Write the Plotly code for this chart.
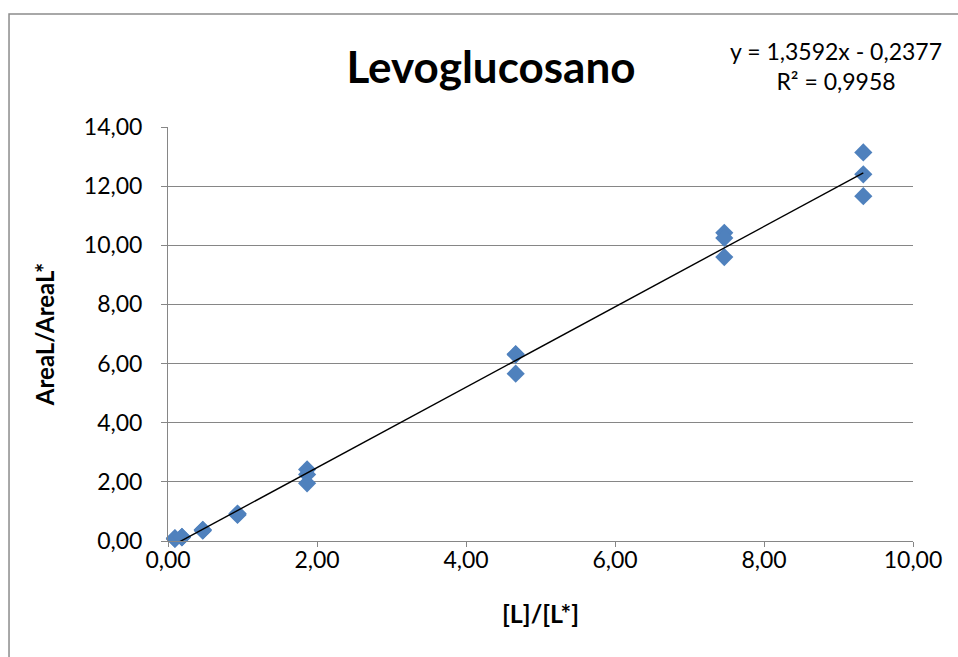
import numpy as np
import plotly.graph_objects as go

# Calibration data: concentration ratio vs. peak-area ratio (triplicates)
ratio_conc = [0.093, 0.093, 0.093,
              0.187, 0.187, 0.187,
              0.467, 0.467, 0.467,
              0.933, 0.933, 0.933,
              1.867, 1.867, 1.867,
              4.667, 4.667, 4.667,
              7.467, 7.467, 7.467,
              9.333, 9.333, 9.333]
ratio_area = [0.07, 0.08, 0.10,
              0.12, 0.13, 0.14,
              0.35, 0.37, 0.38,
              0.88, 0.91, 0.93,
              2.42, 2.25, 1.95,
              6.32, 6.30, 5.66,
              10.42, 10.25, 9.60,
              13.14, 12.40, 11.66]

# Linear trendline parameters
slope = 1.3592
intercept = -0.2377
r_squared = 0.9958

x_ticks = [0, 2, 4, 6, 8, 10]
y_ticks = [0, 2, 4, 6, 8, 10, 12, 14]

FONT = "Lato, Carlito, Calibri, sans-serif"
GRID = "#868686"

x_line = np.array([min(ratio_conc), max(ratio_conc)])
y_line = slope * x_line + intercept

fig = go.Figure()
fig.add_trace(go.Scatter(
    x=ratio_conc, y=ratio_area, mode="markers",
    marker=dict(symbol="diamond", size=14, color="#4F81BD",
                line=dict(width=0)),
    showlegend=False, cliponaxis=False,
))
fig.add_trace(go.Scatter(
    x=x_line, y=y_line, mode="lines",
    line=dict(color="black", width=1.4),
    showlegend=False,
))

fmt = lambda v: f"{v:.4f}".replace(".", ",")
eq_text = (f"y = {fmt(slope)}x - {fmt(abs(intercept))}<br>"
           f"R² = {fmt(r_squared)}")

fig.update_layout(
    width=958, height=657,
    margin=dict(l=168, r=45, t=127, b=116),
    paper_bgcolor="white", plot_bgcolor="white",
    separators=",.",
    font=dict(family=FONT, color="black", size=23),
    title=dict(text="<b>Levoglucosano</b>", x=0.5125, xanchor="center",
               y=0.8965, yanchor="middle",
               font=dict(family=FONT, size=44, color="black")),
    xaxis=dict(
        range=[0, 10], tickvals=x_ticks, tickformat=".2f",
        showgrid=False, zeroline=False,
        showline=True, linecolor=GRID, linewidth=1,
        ticks="outside", ticklen=5, tickcolor=GRID,
        tickfont=dict(size=23), ticklabelstandoff=-7,
        title=dict(text="<b>[L]/[L*]</b>", font=dict(size=25), standoff=33),
    ),
    yaxis=dict(
        range=[0, 14], tickvals=y_ticks, tickformat=".2f",
        showgrid=True, gridcolor=GRID, gridwidth=1, zeroline=False,
        showline=True, linecolor=GRID, linewidth=1,
        ticks="outside", ticklen=6, tickcolor=GRID,
        tickfont=dict(size=23), ticklabelstandoff=14,
        title=dict(text="<b>AreaL/AreaL*</b>", font=dict(size=24), standoff=22),
    ),
    annotations=[dict(
        text=eq_text, xref="paper", yref="paper",
        x=0.8966, y=1.147, xanchor="center", yanchor="middle",
        showarrow=False, align="center",
        font=dict(family=FONT, size=23, color="black"),
    )],
    shapes=[dict(
        type="rect", xref="paper", yref="paper",
        x0=-0.2134, x1=1.2, y0=-0.4, y1=1.273,
        line=dict(color="#8C8C8C", width=1.5), fillcolor="rgba(0,0,0,0)",
        layer="below",
    )],
)

fig.write_html("out.html")
